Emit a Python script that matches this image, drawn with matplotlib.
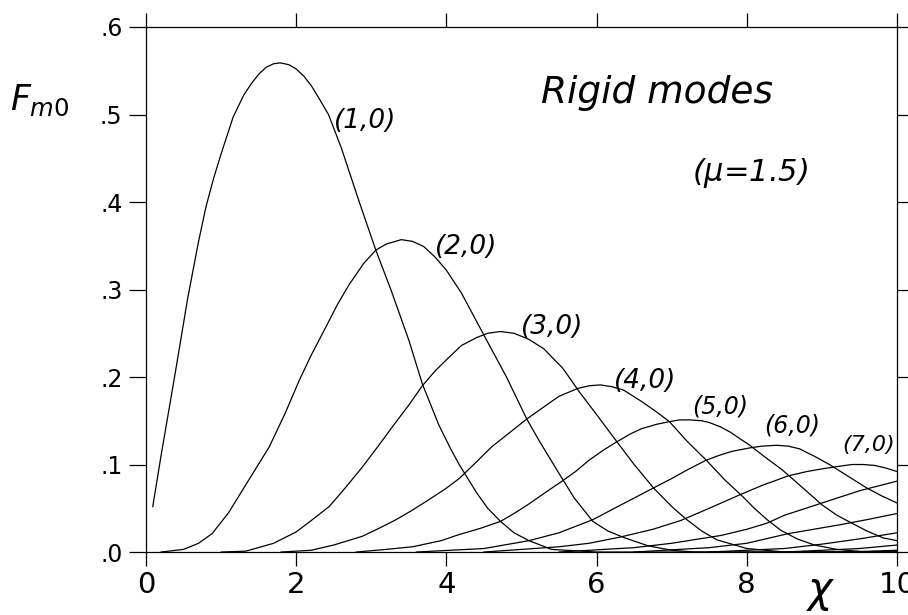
import matplotlib.pyplot as plt

# mode (1,0) ... (12,0): values
x1 = [0.09, 0.2, 0.38, 0.555, 0.7, 0.8, 0.9, 1.0, 1.16, 1.3, 1.4, 1.5, 1.6, 1.7, 1.785, 1.9, 2.0, 2.1, 2.2, 2.3,
      2.43, 2.6, 2.84, 3.06, 3.26, 3.5, 3.68, 3.9, 4.05, 4.17, 4.3, 4.4, 4.55, 4.72, 4.9, 5.1, 5.4, 6.0, 10.0]
f1 = [0.052, 0.11, 0.20, 0.29, 0.355, 0.395, 0.427, 0.455, 0.497, 0.522, 0.535, 0.546, 0.554, 0.558, 0.559, 0.557,
      0.552, 0.544, 0.533, 0.519, 0.50, 0.462, 0.40, 0.345, 0.30, 0.242, 0.192, 0.145, 0.119, 0.100, 0.082, 0.068,
      0.050, 0.035, 0.022, 0.013, 0.003, 0.0, 0.0]

x2 = [0.2, 0.5, 0.7, 0.88, 1.1, 1.33, 1.64, 1.85, 2.04, 2.2, 2.4, 2.55, 2.7, 2.9, 3.06, 3.2, 3.4, 3.55, 3.7, 3.85,
      4.0, 4.2, 4.48, 4.8, 5.07, 5.25, 5.47, 5.7, 5.95, 6.15, 6.38, 6.69, 7.0, 7.3, 10.0]
f2 = [0.0, 0.003, 0.010, 0.021, 0.045, 0.077, 0.120, 0.158, 0.196, 0.225, 0.258, 0.283, 0.305, 0.330, 0.345, 0.352,
      0.357, 0.355, 0.349, 0.337, 0.322, 0.296, 0.251, 0.200, 0.152, 0.125, 0.094, 0.062, 0.035, 0.024, 0.016, 0.007,
      0.002, 0.0, 0.0]

x3 = [1.0, 1.33, 1.7, 2.0, 2.2, 2.44, 2.65, 2.88, 3.1, 3.28, 3.5, 3.68, 3.85, 4.04, 4.2, 4.4, 4.55, 4.72, 4.9, 5.1,
      5.3, 5.55, 5.77, 6.0, 6.27, 6.5, 6.76, 7.0, 7.2, 7.4, 7.6, 8.0, 8.5, 10.0]
f3 = [0.0, 0.001, 0.010, 0.023, 0.036, 0.052, 0.073, 0.097, 0.122, 0.143, 0.168, 0.190, 0.207, 0.223, 0.236, 0.245,
      0.250, 0.252, 0.250, 0.243, 0.232, 0.210, 0.183, 0.157, 0.126, 0.100, 0.073, 0.052, 0.037, 0.024, 0.014, 0.004,
      0.0, 0.0]

x4 = [1.8, 2.2, 2.5, 2.88, 3.1, 3.33, 3.55, 3.77, 4.0, 4.17, 4.4, 4.6, 4.85, 5.07, 5.3, 5.5, 5.75, 5.9, 6.05, 6.2,
      6.36, 6.6, 6.8, 6.97, 7.2, 7.46, 7.7, 7.95, 8.1, 8.27, 8.45, 8.67, 8.9, 9.2, 9.6, 10.0]
f4 = [0.0, 0.002, 0.008, 0.018, 0.027, 0.037, 0.048, 0.060, 0.073, 0.084, 0.103, 0.120, 0.137, 0.152, 0.166, 0.178,
      0.187, 0.190, 0.191, 0.189, 0.185, 0.172, 0.160, 0.149, 0.127, 0.105, 0.083, 0.063, 0.050, 0.037, 0.025, 0.015,
      0.008, 0.003, 0.0, 0.0]

x5 = [2.8, 3.2, 3.55, 3.93, 4.17, 4.45, 4.72, 4.9, 5.1, 5.3, 5.54, 5.72, 5.9, 6.1, 6.27, 6.45, 6.6, 6.8, 6.97, 7.1,
      7.24, 7.4, 7.5, 7.65, 7.78, 7.9, 8.04, 8.25, 8.47, 8.75, 9.0, 9.2, 9.42, 9.6, 9.82, 10.0]
f5 = [0.0, 0.003, 0.006, 0.013, 0.020, 0.027, 0.035, 0.044, 0.055, 0.067, 0.081, 0.092, 0.105, 0.117, 0.126, 0.135,
      0.141, 0.146, 0.149, 0.151, 0.151, 0.150, 0.148, 0.143, 0.137, 0.130, 0.122, 0.108, 0.094, 0.073, 0.054, 0.042,
      0.032, 0.024, 0.016, 0.013]

x6 = [3.6, 4.5, 5.1, 5.5, 5.95, 6.35, 6.73, 7.0, 7.21, 7.46, 7.65, 7.8, 8.04, 8.2, 8.4, 8.55, 8.7, 8.91, 9.1, 9.36,
      9.6, 9.8, 10.0]
f6 = [0.0, 0.004, 0.013, 0.022, 0.037, 0.055, 0.072, 0.084, 0.094, 0.105, 0.111, 0.115, 0.119, 0.121, 0.122, 0.121,
      0.118, 0.109, 0.100, 0.086, 0.073, 0.064, 0.056]

x7 = [4.5, 5.5, 5.9, 6.31, 6.75, 7.12, 7.5, 7.87, 8.2, 8.55, 8.8, 9.0, 9.23, 9.4, 9.55, 9.7, 9.85, 10.0]
f7 = [0.0, 0.006, 0.010, 0.017, 0.026, 0.036, 0.050, 0.064, 0.076, 0.087, 0.092, 0.095, 0.098, 0.100, 0.100, 0.099,
      0.096, 0.092]

x8 = [5.5, 6.5, 7.0, 7.66, 8.0, 8.27, 8.5, 9.0, 9.5, 10.0]
f8 = [0.0, 0.005, 0.010, 0.019, 0.026, 0.033, 0.042, 0.056, 0.070, 0.081]

x9 = [6.5, 7.5, 8.0, 8.55, 9.23, 9.6, 10.0]
f9 = [0.0, 0.005, 0.010, 0.021, 0.031, 0.037, 0.044]

x10 = [7.5, 8.5, 9.0, 9.5, 10.0]
f10 = [0.0, 0.004, 0.009, 0.015, 0.022]

x11 = [8.5, 9.5, 10.0]
f11 = [0.0, 0.004, 0.008]

x12 = [9.3, 10.0]
f12 = [0.0, 0.002]

curves = [(x1, f1), (x2, f2), (x3, f3), (x4, f4), (x5, f5), (x6, f6),
          (x7, f7), (x8, f8), (x9, f9), (x10, f10), (x11, f11), (x12, f12)]

mode_labels = ['(1,0)', '(2,0)', '(3,0)', '(4,0)', '(5,0)', '(6,0)', '(7,0)']
label_x = [2.92, 4.26, 5.41, 6.64, 7.64, 8.60, 9.62]
label_y = [0.493, 0.349, 0.257, 0.195, 0.166, 0.145, 0.122]
label_size = [19, 19, 19, 19, 17, 17, 16]

xticks = [0, 2, 4, 6, 8, 10]
xtick_labels = ['0', '2', '4', '6', '8', '10']
yticks = [0.0, 0.1, 0.2, 0.3, 0.4, 0.5, 0.6]
ytick_labels = ['.0', '.1', '.2', '.3', '.4', '.5', '.6']

fig = plt.figure(figsize=(9.08, 6.15), dpi=100)
ax = fig.add_axes([0.1608, 0.1024, 0.8271, 0.8537])

for xs, fs in curves:
    ax.plot(xs, fs, color='black', lw=0.9, solid_joinstyle='round')

ax.set_xlim(0, 10)
ax.set_ylim(0, 0.6)

ax.set_xticks(xticks)
ax.set_xticklabels(xtick_labels)
ax.set_yticks(yticks)
ax.set_yticklabels(ytick_labels)

ax.tick_params(axis='x', direction='out', length=10, width=0.9, labelsize=21, pad=4,
               top=True, bottom=True)
ax.tick_params(axis='y', direction='out', length=12, width=0.9, labelsize=17, pad=5,
               left=True, right=True)
for s in ax.spines.values():
    s.set_linewidth(0.9)

for lab, lx, ly, sz in zip(mode_labels, label_x, label_y, label_size):
    ax.text(lx, ly, lab, fontsize=sz, style='italic', ha='center', va='center')

ax.text(6.8, 0.525, 'Rigid modes', fontsize=27, style='italic', ha='center', va='center')
ax.text(8.05, 0.433, '($\\mu$=1.5)', fontsize=22, style='italic', ha='center', va='center')

fig.text(40 / 908, 1 - 100 / 615, '$F_{m0}$', fontsize=25, ha='center', va='center')
fig.text(821 / 908, 1 - 592 / 615, '$\\chi$', fontsize=30, ha='center', va='center')

fig.savefig('out.png', dpi=100)
